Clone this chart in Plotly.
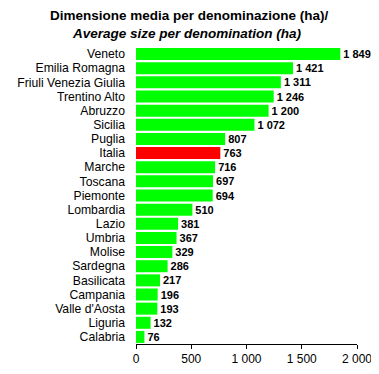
import plotly.graph_objects as go

regions = ["Veneto", "Emilia Romagna", "Friuli Venezia Giulia", "Trentino Alto", "Abruzzo",
           "Sicilia", "Puglia", "Italia", "Marche", "Toscana", "Piemonte", "Lombardia",
           "Lazio", "Umbria", "Molise", "Sardegna", "Basilicata", "Campania",
           "Valle d'Aosta", "Liguria", "Calabria"]
values = [1849, 1421, 1311, 1246, 1200, 1072, 807, 763, 716, 697, 694, 510,
          381, 367, 329, 286, 217, 196, 193, 132, 76]
x_ticks = [0, 500, 1000, 1500, 2000]

colors = ["#FF0000" if r == "Italia" else "#00FF00" for r in regions]

# page body has an 8px default margin, so the figure is sized/offset to compensate
OFF = 8
W, H = 379 - OFF, 374 - OFF
ML, MT = 136 - OFF, 47 - OFF
MR, MB = 22, 30
PW, PH = W - ML - MR, H - MT - MB

fig = go.Figure(go.Bar(
    x=values, y=regions, orientation="h",
    marker=dict(color=colors, line=dict(width=0)),
    texttemplate="%{x:,}", textposition="outside",
    textfont=dict(family="Liberation Sans", size=11, color="black", weight="bold"),
    cliponaxis=False,
))

fig.update_layout(
    width=W, height=H,
    margin=dict(l=ML, r=MR, t=MT, b=MB, autoexpand=False),
    paper_bgcolor="white", plot_bgcolor="white",
    separators=", ",
    showlegend=False,
    bargap=0.15,
    font=dict(family="Liberation Sans", color="black"),
    xaxis=dict(range=[0, 2000], tickvals=x_ticks, tickformat=",d",
               showline=True, linecolor="black", linewidth=1,
               ticks="outside", ticklen=4, tickcolor="black",
               showgrid=False, zeroline=False, automargin=False,
               tickfont=dict(size=12, color="black")),
    yaxis=dict(autorange="reversed", showgrid=False, showline=False, ticks="",
               tickmode="linear", dtick=1, automargin=False,
               ticklabelstandoff=10, tickfont=dict(size=12.2, color="black")),
)

def px_x(x):
    return (x - OFF - ML) / PW

def px_y(y):
    return (H - MB - (y - OFF)) / PH

fig.add_annotation(text="<b>Dimensione media per denominazione (ha)/</b>",
                   xref="paper", yref="paper", x=px_x(189), y=px_y(16),
                   showarrow=False, font=dict(size=13.5), yanchor="middle", xanchor="center")
fig.add_annotation(text="<b><i>Average size per denomination (ha)</i></b>",
                   xref="paper", yref="paper", x=px_x(187), y=px_y(33),
                   showarrow=False, font=dict(size=13.5), yanchor="middle", xanchor="center")

fig.write_html("out.html")
